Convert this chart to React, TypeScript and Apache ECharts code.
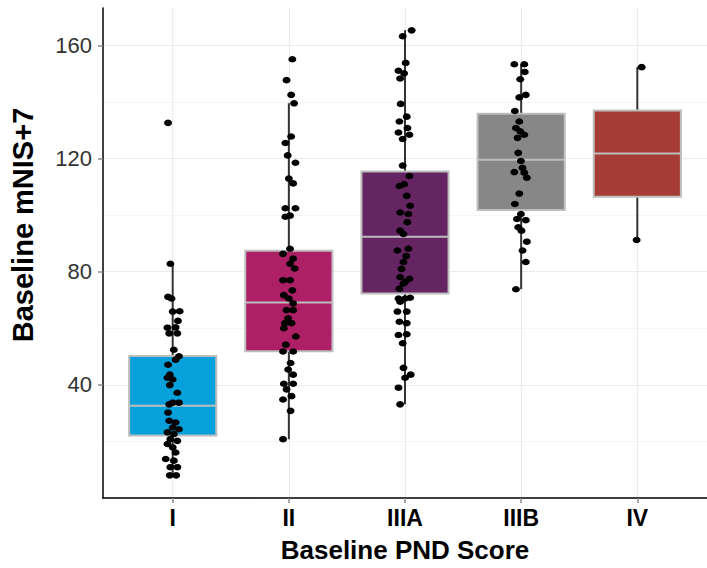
import React, { useEffect, useRef } from "react";
import * as echarts from "echarts";

const categories = ["I", "II", "IIIA", "IIIB", "IV"];
const boxColors = ["#06A0DB", "#AE2066", "#652562", "#878787", "#A53C36"];

// box statistics
const lowerWhisker = [8, 20.8, 33.1, 73.8, 91.2];
const q1 = [22.1, 51.9, 72.3, 101.8, 106.5];
const median = [32.6, 69.1, 92.3, 119.6, 121.75];
const q3 = [50.2, 87.4, 115.4, 135.8, 137.0];
const upperWhisker = [82.8, 139.5, 165.3, 153.3, 152.3];

// observed values (jitter offsets in category units)
const valuesI = [132.6, 82.8, 71.1, 70.5, 65.9, 66, 62.6, 60.2, 60.3, 58.2, 58.2, 52.4, 50.1, 48.9, 47.1, 43.6, 42.5, 41.9, 39.9, 37.2, 33.7, 33.1, 33.7, 30.2, 27.3, 26.7, 24.9, 24.3, 23.2, 22.6, 20.8, 20.2, 19.1, 17.9, 16.1, 13.8, 13.2, 10.9, 10.9, 8, 8];
const jitterI = [-0.04, -0.02, -0.04, -0.01, 0, 0.06, 0.045, -0.045, 0.025, -0.03, 0.04, 0.01, 0.054, 0.025, -0.04, -0.025, -0.045, 0, -0.025, 0.04, 0, -0.03, 0.054, -0.04, -0.03, 0.025, 0, 0.054, -0.045, 0.01, -0.02, 0.04, -0.045, 0, 0.025, -0.06, 0.01, -0.02, 0.04, -0.025, 0.03];

const valuesII = [155.1, 147.7, 142.5, 139.5, 127.8, 125.5, 121.1, 118.5, 112.9, 111.2, 102.4, 102.4, 99.4, 99.8, 88.1, 86.3, 84.6, 82.8, 81.1, 77, 77, 73.4, 71.7, 70.5, 68.8, 66.4, 66.4, 63.5, 61.8, 61.8, 60, 57.1, 54.2, 51.8, 51.8, 47.7, 45.4, 43.6, 40.4, 40.4, 38.4, 36, 34.8, 30.8, 20.8];
const jitterII = [0.03, -0.02, 0.02, 0.045, 0.02, -0.03, -0.01, 0.057, 0, 0.037, -0.03, 0.057, -0.03, 0.01, 0.01, -0.05, 0.037, 0.01, 0.05, -0.05, 0.01, 0.03, -0.043, 0, 0.037, -0.02, 0.037, -0.006, -0.034, 0.023, -0.043, 0.06, -0.026, -0.05, 0.037, 0.015, -0.006, 0.037, -0.043, 0.037, -0.02, 0.023, -0.05, 0.015, -0.05];

const valuesIIIA = [165.3, 163.2, 153.8, 151, 150.1, 148.3, 139.3, 134.8, 133.1, 130.8, 129.2, 128.4, 126.9, 117.5, 113.8, 110.9, 110.3, 106.8, 103.3, 100.9, 100.4, 97.5, 94.5, 93.3, 88.1, 87.5, 85.5, 83.4, 81, 78.1, 77.5, 76.4, 75.8, 74, 70.5, 70.5, 70.8, 69.4, 65.9, 65.9, 62.3, 61.8, 57.6, 57.9, 54.7, 46, 43.6, 42.5, 39, 33.1];
const jitterIIIA = [0.057, -0.02, 0.006, -0.056, -0.008, -0.042, -0.037, 0.015, -0.048, 0.021, -0.056, 0.038, -0.02, -0.02, 0.038, -0.008, -0.048, 0.015, 0.044, -0.042, 0.029, 0.02, -0.042, -0.013, 0.029, -0.065, 0.01, -0.013, -0.03, -0.042, 0.038, 0.001, -0.013, -0.048, -0.056, 0.001, 0.044, -0.042, -0.065, 0.015, -0.048, 0.015, -0.056, 0.015, -0.02, -0.013, 0.049, 0.001, -0.056, -0.042];

const valuesIIIB = [153.3, 153.3, 150.6, 148, 142.5, 141.6, 136.8, 133.1, 130.8, 129.6, 128.4, 127.3, 122, 119.1, 115.2, 116.7, 115, 113.2, 107.6, 103.9, 100.4, 98.6, 98.2, 95.7, 94.5, 90.6, 87.5, 83.4, 73.8];
const jitterIIIB = [-0.059, 0.027, 0.031, -0.008, 0.04, -0.016, -0.054, -0.016, -0.045, -0.008, 0.027, -0.031, -0.025, -0.002, -0.059, 0.012, 0.027, 0.049, -0.016, -0.054, -0.002, -0.036, 0.04, -0.025, 0.003, 0.049, 0.012, 0.04, -0.045];

const valuesIV = [152.3, 91.2];
const jitterIV = [0.037, -0.006];

const yTickValues = [40, 80, 120, 160];
const xTickValues = [1, 2, 3, 4, 5];

const FONT = "'Liberation Sans', Arial, sans-serif";

export default function App() {
  const ref = useRef<HTMLDivElement>(null);

  useEffect(() => {
    if (!ref.current) return;
    const chart = echarts.init(ref.current, undefined, { renderer: "svg" });

    const groups = [
      [valuesI, jitterI],
      [valuesII, jitterII],
      [valuesIIIA, jitterIIIA],
      [valuesIIIB, jitterIIIB],
      [valuesIV, jitterIV],
    ];
    const points: number[][] = [];
    groups.forEach(([vals, jit], gi) => {
      vals.forEach((v, i) => points.push([gi + 1 + jit[i], v]));
    });

    const boxData = categories.map((_, i) => [
      i + 1,
      lowerWhisker[i],
      q1[i],
      median[i],
      q3[i],
      upperWhisker[i],
      i,
    ]);

    const half = 0.375;

    chart.setOption({
      animation: false,
      grid: { left: 101, right: -4, top: 8, bottom: 68, containLabel: false },
      xAxis: {
        type: "value",
        min: 0.4,
        max: 5.6,
        axisLine: { show: true, onZero: false, lineStyle: { color: "#000", width: 1.5 } },
        axisTick: {
          show: true,
          customValues: xTickValues,
          length: 5,
          lineStyle: { color: "#8a8a8a", width: 1.5 },
        },
        axisLabel: {
          customValues: xTickValues,
          formatter: (v: number) => categories[Math.round(v) - 1] ?? "",
          color: "#000",
          fontWeight: "bold",
          fontSize: 23,
          fontFamily: FONT,
          margin: 8,
        },
        splitLine: { show: true, lineStyle: { color: "#ebebeb", width: 1.2 } },
        name: "Baseline PND Score",
        nameLocation: "middle",
        nameGap: 39,
        nameTextStyle: { color: "#000", fontWeight: "bold", fontSize: 26, fontFamily: FONT },
      },
      yAxis: [
        {
          type: "value",
          min: 0,
          max: 173.2,
          interval: 20,
          axisLine: { show: true, onZero: false, lineStyle: { color: "#000", width: 1.5 } },
          axisTick: { show: false },
          axisLabel: { show: false },
          splitLine: {
            show: true,
            showMaxLine: false,
            lineStyle: { color: ["#ebebeb", "#f5f5f5"], width: 1.2 },
          },
        },
        {
          type: "value",
          min: 0,
          max: 173.2,
          position: "left",
          axisLine: { show: false },
          axisTick: {
            show: true,
            customValues: yTickValues,
            length: 5,
            lineStyle: { color: "#8a8a8a", width: 1.5 },
          },
          axisLabel: {
            customValues: yTickValues,
            color: "#333",
            fontSize: 22,
            fontFamily: FONT,
            margin: 11,
          },
          splitLine: { show: false },
          name: "Baseline mNIS+7",
          nameLocation: "middle",
          nameGap: 66,
          nameTextStyle: {
            color: "#000",
            fontWeight: "bold",
            fontSize: 29,
            fontFamily: FONT,
            padding: [0, 0, 0, 56],
          },
        },
      ],
      series: [
        {
          type: "custom",
          xAxisIndex: 0,
          yAxisIndex: 0,
          data: boxData,
          encode: { x: 0, y: [1, 2, 3, 4, 5] },
          z: 2,
          renderItem: (_params: any, api: any) => {
            const x = api.value(0);
            const lo = api.value(1);
            const a = api.value(2);
            const m = api.value(3);
            const b = api.value(4);
            const hi = api.value(5);
            const idx = api.value(6);
            const pLo = api.coord([x, lo]);
            const pHi = api.coord([x, hi]);
            const tl = api.coord([x - half, b]);
            const br = api.coord([x + half, a]);
            const m1 = api.coord([x - half, m]);
            const m2 = api.coord([x + half, m]);
            return {
              type: "group",
              children: [
                {
                  type: "line",
                  shape: { x1: pLo[0], y1: pLo[1], x2: pHi[0], y2: pHi[1] },
                  style: { stroke: "#333", lineWidth: 2 },
                },
                {
                  type: "rect",
                  shape: { x: tl[0], y: tl[1], width: br[0] - tl[0], height: br[1] - tl[1] },
                  style: { fill: boxColors[idx], stroke: "#bdbdbd", lineWidth: 2 },
                },
                {
                  type: "line",
                  shape: { x1: m1[0], y1: m1[1], x2: m2[0], y2: m2[1] },
                  style: { stroke: "#bdbdbd", lineWidth: 2 },
                },
              ],
            };
          },
        },
        {
          type: "scatter",
          xAxisIndex: 0,
          yAxisIndex: 0,
          data: points,
          symbol: "circle",
          symbolSize: [8, 6.5],
          itemStyle: { color: "#000", opacity: 1 },
          z: 5,
        },
      ],
    });

    return () => chart.dispose();
  }, []);

  return (
    <div
      ref={ref}
      style={{ position: "absolute", left: 0, top: 0, width: 707, height: 568 }}
    />
  );
}
